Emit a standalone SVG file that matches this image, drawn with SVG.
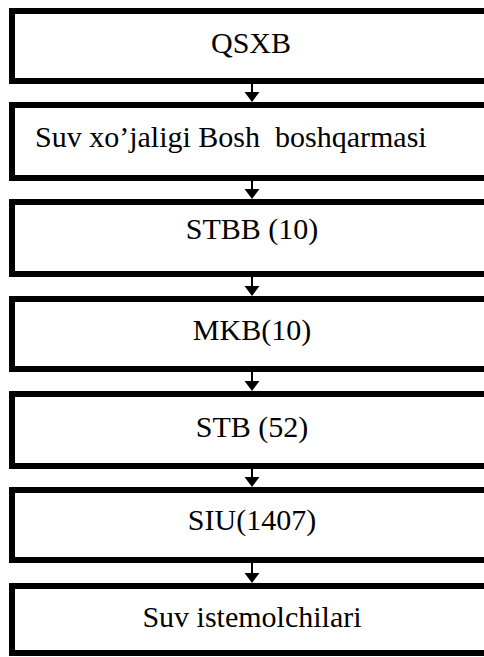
<svg xmlns="http://www.w3.org/2000/svg" width="484" height="657" viewBox="0 0 484 657">
<style>
.box{fill:#fff;stroke:#000;stroke-width:6}
.lbl{font-family:"Liberation Serif","Times New Roman",serif;font-size:30px;fill:#000;white-space:pre}
.c{text-anchor:middle}
.conn line{stroke:#000;stroke-width:2}
.conn polygon{fill:#000}
</style>
<rect width="484" height="657" fill="#fff"/>
<g id="n1"><rect class="box" x="12" y="11" width="490" height="70"/><text class="lbl c" x="251" y="53">QSXB</text></g>
<g id="n2"><rect class="box" x="12" y="105" width="490" height="73"/><text class="lbl" x="35" y="147" xml:space="preserve">Suv xo’jaligi Bosh  boshqarmasi</text></g>
<g id="n3"><rect class="box" x="12" y="202" width="490" height="72"/><text class="lbl c" x="252" y="239">STBB (10)</text></g>
<g id="n4"><rect class="box" x="12" y="299" width="490" height="70"/><text class="lbl c" x="252" y="340">MKB(10)</text></g>
<g id="n5"><rect class="box" x="12" y="394" width="490" height="72"/><text class="lbl c" x="252" y="437">STB (52)</text></g>
<g id="n6"><rect class="box" x="12" y="490" width="490" height="70"/><text class="lbl c" x="252" y="530">SIU(1407)</text></g>
<g id="n7"><rect class="box" x="12" y="586" width="490" height="67"/><text class="lbl c" x="252" y="627">Suv istemolchilari</text></g>
<g class="conn" id="connectors">
<line x1="252" y1="84" x2="252" y2="93"/><polygon points="244.5,92 259.5,92 252,102"/>
<line x1="252" y1="181" x2="252" y2="190"/><polygon points="244.5,189 259.5,189 252,199"/>
<line x1="252" y1="277" x2="252" y2="287"/><polygon points="244.5,286 259.5,286 252,296"/>
<line x1="252" y1="372" x2="252" y2="382"/><polygon points="244.5,381 259.5,381 252,391"/>
<line x1="252" y1="469" x2="252" y2="478"/><polygon points="244.5,477 259.5,477 252,487"/>
<line x1="252" y1="563" x2="252" y2="574"/><polygon points="244.5,573 259.5,573 252,583"/>
</g>
</svg>
